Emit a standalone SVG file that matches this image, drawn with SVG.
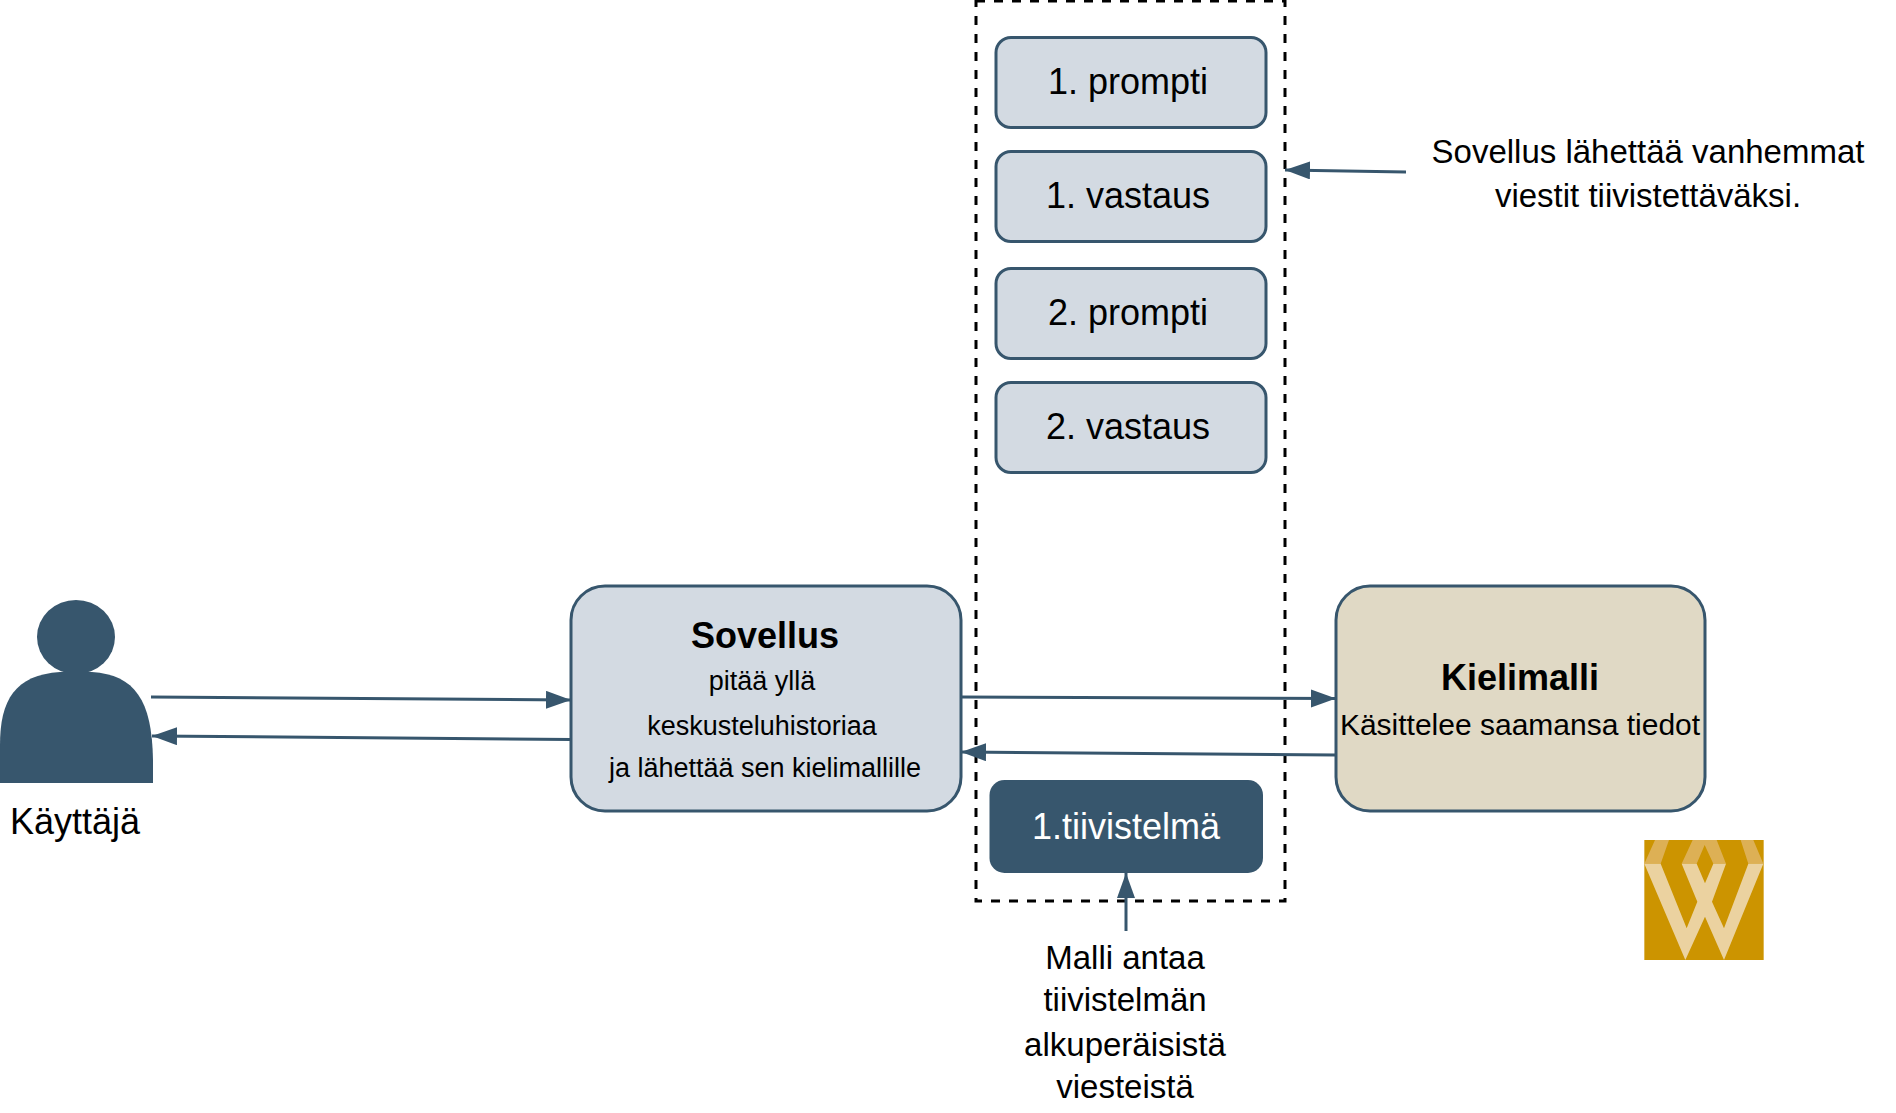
<svg xmlns="http://www.w3.org/2000/svg" width="1896" height="1113" viewBox="0 0 1896 1113">
<style>
text{font-family:"Liberation Sans",Arial,sans-serif;fill:#000;text-anchor:middle}
.l{font-size:36px}.m{font-size:33px}.s{font-size:27px}.b{font-size:36px;font-weight:bold}
.box{fill:#d3dae2;stroke:#37566d;stroke-width:3}
.c{stroke:#37566d;stroke-width:3;fill:none;marker-end:url(#a)}
</style>
<defs><marker id="a" markerUnits="userSpaceOnUse" markerWidth="26" markerHeight="20" refX="25" refY="9" orient="auto"><path d="M0 0L25 9L0 18Z" fill="#37566d"/></marker></defs>
<rect id="group" x="976" y="1" width="309" height="900" fill="none" stroke="#000" stroke-width="3" stroke-dasharray="9 9"/>
<g id="user"><ellipse cx="76" cy="637" rx="39" ry="37" fill="#37566d"/><path d="M0 783V745C0 700 15 675 60 672H92C135 675 152 700 153 760V783Z" fill="#37566d"/><text x="75" y="834" font-size="36">Käyttäjä</text></g>
<g id="sovellus"><rect class="box" x="571" y="586" width="390" height="225" rx="34"/><text class="b" x="765" y="648">Sovellus</text><text class="s" x="762" y="690">pitää yllä</text><text class="s" x="762" y="735">keskusteluhistoriaa</text><text class="s" x="765" y="777">ja lähettää sen kielimallille</text></g>
<g id="kielimalli"><rect x="1336" y="586" width="369" height="225" rx="34" fill="#e0d9c5" stroke="#37566d" stroke-width="3"/><text class="b" x="1520" y="690">Kielimalli</text><text x="1520" y="735" font-size="30">Käsittelee saamansa tiedot</text></g>
<g id="p1"><rect class="box" x="996" y="37.500" width="270" height="90" rx="15"/><text class="l" x="1128" y="94">1. prompti</text></g>
<g id="v1"><rect class="box" x="996" y="151.500" width="270" height="90" rx="15"/><text class="l" x="1128" y="208">1. vastaus</text></g>
<g id="p2"><rect class="box" x="996" y="268.500" width="270" height="90" rx="15"/><text class="l" x="1128" y="325">2. prompti</text></g>
<g id="v2"><rect class="box" x="996" y="382.500" width="270" height="90" rx="15"/><text class="l" x="1128" y="439">2. vastaus</text></g>
<g id="t1"><rect x="989.500" y="780" width="273.500" height="93" rx="15" fill="#37566d"/><text class="l" x="1126" y="839" style="fill:#fff">1.tiivistelmä</text></g>
<g id="note1"><text class="m" x="1648" y="162.500">Sovellus lähettää vanhemmat</text><text class="m" x="1648" y="207">viestit tiivistettäväksi.</text></g>
<g id="note2"><text class="m" x="1125" y="969">Malli antaa</text><text class="m" x="1125" y="1011">tiivistelmän</text><text class="m" x="1125" y="1056">alkuperäisistä</text><text class="m" x="1125" y="1098">viesteistä</text></g>
<g id="logo" transform="translate(1600 810) scale(.33333)"><rect x="133" y="90" width="358" height="360" fill="#cc9400"/><path fill="#ddb055" d="M133 161L165 90H207L182 161ZM245 161L278 90H350L378 161H340L314 105L290 161ZM422 90H460L490 161H445Z"/><path fill="#ebd2a0" d="M133 161H182L260 355L292 275L245 161H290L315 220L340 161H378L336 275L372 355L445 161H490L372 450L315 320L256 450Z"/></g>
<g id="connectors">
<path class="c" d="M151 697L571 700"/>
<path class="c" d="M571 739.500L152 736"/>
<path class="c" d="M961 697L1336 698.500"/>
<path class="c" d="M1336 755L961 752"/>
<path class="c" d="M1406 172L1285 170"/>
<path class="c" d="M1126 931V873"/>
</g>
</svg>
